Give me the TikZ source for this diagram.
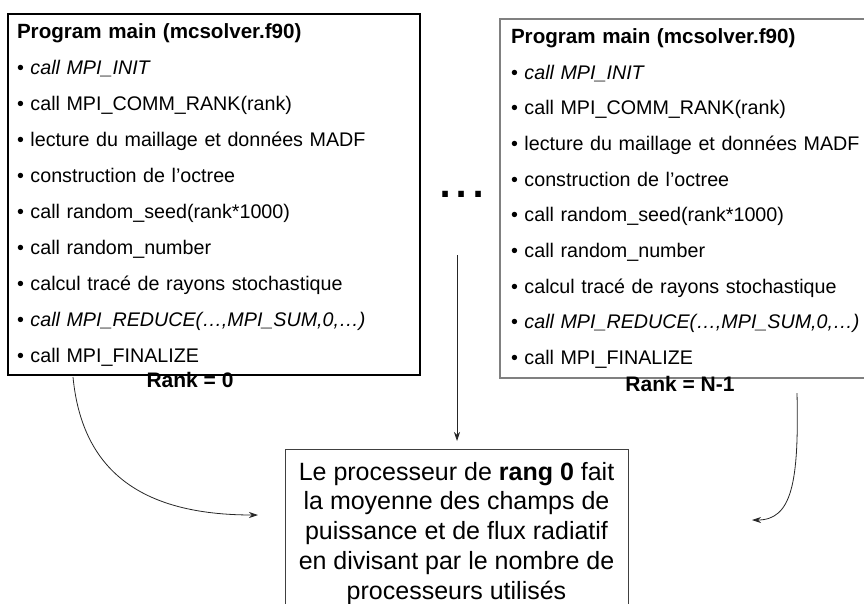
\documentclass[tikz,border=0pt]{standalone}
\usepackage{fontspec}
\setmainfont{Liberation Sans}
\usetikzlibrary{arrows.meta}
\usetikzlibrary{positioning}

\newcommand{\progtitle}{{\fontsize{20.6}{36}\selectfont\bfseries Program main (mcsolver.f90)}}

\begin{document}
\begin{tikzpicture}[x=1pt, y=-1pt,
        prog/.style={draw, rectangle, align=left, inner xsep=9pt, inner ysep=0pt,
                     font=\fontsize{19.7}{36}\selectfont},
        rank/.style={font=\fontsize{21}{25}\selectfont\bfseries},
        arr/.style={-{Stealth[length=9pt, width=6pt]}, draw=black!85, line width=0.8pt}]
        \clip (0,0) rectangle (864,603);
        \node [prog, draw=black, line width=1.1pt, minimum width=412pt, minimum height=361pt,
               text width=394pt] (p0) at (214,194.5)
              {\progtitle\\
               \textbullet{} \textit{call MPI\_INIT}\\
               \textbullet{} call MPI\_COMM\_RANK(rank)\\
               \textbullet{} lecture du maillage et données MADF\\
               \textbullet{} construction de l’octree\\
               \textbullet{} call random\_seed(rank*1000)\\
               \textbullet{} call random\_number\\
               \textbullet{} calcul tracé de rayons stochastique\\
               \textbullet{} \textit{call MPI\_REDUCE(…,MPI\_SUM,0,…)}\\
               \textbullet{} call MPI\_FINALIZE};
        \node [prog, draw=black!50, line width=1.4pt, inner xsep=11pt, minimum width=390pt,
               minimum height=359pt, text width=368pt,
               font=\fontsize{19.7}{35.7}\selectfont] (pn) at (695,198.5)
              {\progtitle\\
               \textbullet{} \textit{call MPI\_INIT}\\
               \textbullet{} call MPI\_COMM\_RANK(rank)\\
               \textbullet{} lecture du maillage et données MADF\\
               \textbullet{} construction de l’octree\\
               \textbullet{} call random\_seed(rank*1000)\\
               \textbullet{} call random\_number\\
               \textbullet{} calcul tracé de rayons stochastique\\
               \textbullet{} \textit{call MPI\_REDUCE(…,MPI\_SUM,0,…)}\\
               \textbullet{} call MPI\_FINALIZE};
        \node [rank] (r0) at (190,380) {Rank = 0};
        \node [rank] (rn) at (680,384) {Rank = N-1};
        \node [font=\fontsize{58}{58}\selectfont, inner sep=0pt] (dots) at (462,194) {...};
        \node [draw, draw=black!75, line width=0.9pt, anchor=north, minimum width=343pt,
               align=center, inner xsep=4pt, inner ysep=12.5pt,
               font=\fontsize{25}{29.8}\selectfont] (res) at (456.5,449)
              {Le processeur de \textbf{rang 0} fait\\
               la moyenne des champs de\\
               puissance et de flux radiatif\\
               en divisant par le nombre de\\
               processeurs utilisés};
        \coordinate (l0) at (73,377);
        \coordinate (l1) at (258,515);
        \coordinate (m0) at (457,255);
        \coordinate (m1) at (457,441);
        \coordinate (n0) at (797,393);
        \coordinate (n1) at (752,520);
        \draw [arr] (l0) .. controls (82,470) and (140,515) .. (l1);
        \draw [arr] (m0) -- (m1);
        \draw [arr] (n0) .. controls (799,482) and (792,520) .. (n1);
\end{tikzpicture}
\end{document}
